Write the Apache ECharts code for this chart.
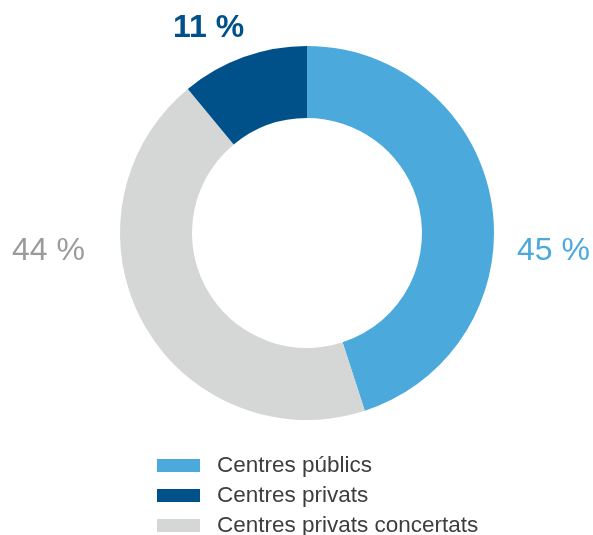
<!DOCTYPE html>
<html>
<head>
<meta charset="utf-8">
<script src="https://cdn.jsdelivr.net/npm/echarts@6/dist/echarts.min.js"></script>
<style>html,body{margin:0;padding:0;background:#fff;}#c{width:593px;height:535px;}</style>
</head>
<body>
<div id="c"></div>
<script>
// Slice order (clockwise from top)
const sliceNames = ['Centres públics', 'Centres privats concertats', 'Centres privats'];
const sliceValues = [45, 44, 11];
// Legend order
const legendNames = ['Centres públics', 'Centres privats', 'Centres privats concertats'];

const colors = {
  'Centres públics': '#4ba9dc',
  'Centres privats concertats': '#d5d6d6',
  'Centres privats': '#00518a'
};
const labelStyles = {
  'Centres públics': {color: '#4ba9dc', fontWeight: 'normal', x: 517, y: 251},
  'Centres privats concertats': {color: '#9b9b9b', fontWeight: 'normal', x: 12, y: 251},
  'Centres privats': {color: '#00518a', fontWeight: 'bold', x: 173, y: 28}
};

const chart = echarts.init(document.getElementById('c'), null, {renderer: 'canvas'});
chart.setOption({
  animation: false,
  legend: {
    orient: 'vertical',
    left: 157,
    top: 454,
    width: 420,
    height: 120,
    padding: 0,
    itemWidth: 43,
    itemHeight: 13,
    itemGap: 7,
    icon: 'rect',
    selectedMode: false,
    data: legendNames,
    formatter: n => '{t|' + n + '}',
    textStyle: {
      rich: {
        t: {
          fontFamily: 'Liberation Sans',
          fontSize: 22.5,
          lineHeight: 16,
          color: '#3d3d3d',
          padding: [0, 0, 0, 12]
        }
      }
    }
  },
  series: [{
    type: 'pie',
    center: [307, 233],
    radius: [115, 187],
    startAngle: 90,
    clockwise: true,
    avoidLabelOverlap: false,
    labelLine: {show: false},
    label: {
      show: true,
      position: 'outside',
      fontFamily: 'Liberation Sans',
      fontSize: 32,
      formatter: p => p.value + ' %'
    },
    labelLayout: function (p) {
      const s = labelStyles[sliceNames[p.dataIndex]];
      return {x: s.x, y: s.y, align: 'left', verticalAlign: 'middle'};
    },
    data: sliceNames.map((n, i) => ({
      name: n,
      value: sliceValues[i],
      itemStyle: {color: colors[n]},
      label: {color: labelStyles[n].color, fontWeight: labelStyles[n].fontWeight}
    }))
  }]
});
</script>
</body>
</html>
